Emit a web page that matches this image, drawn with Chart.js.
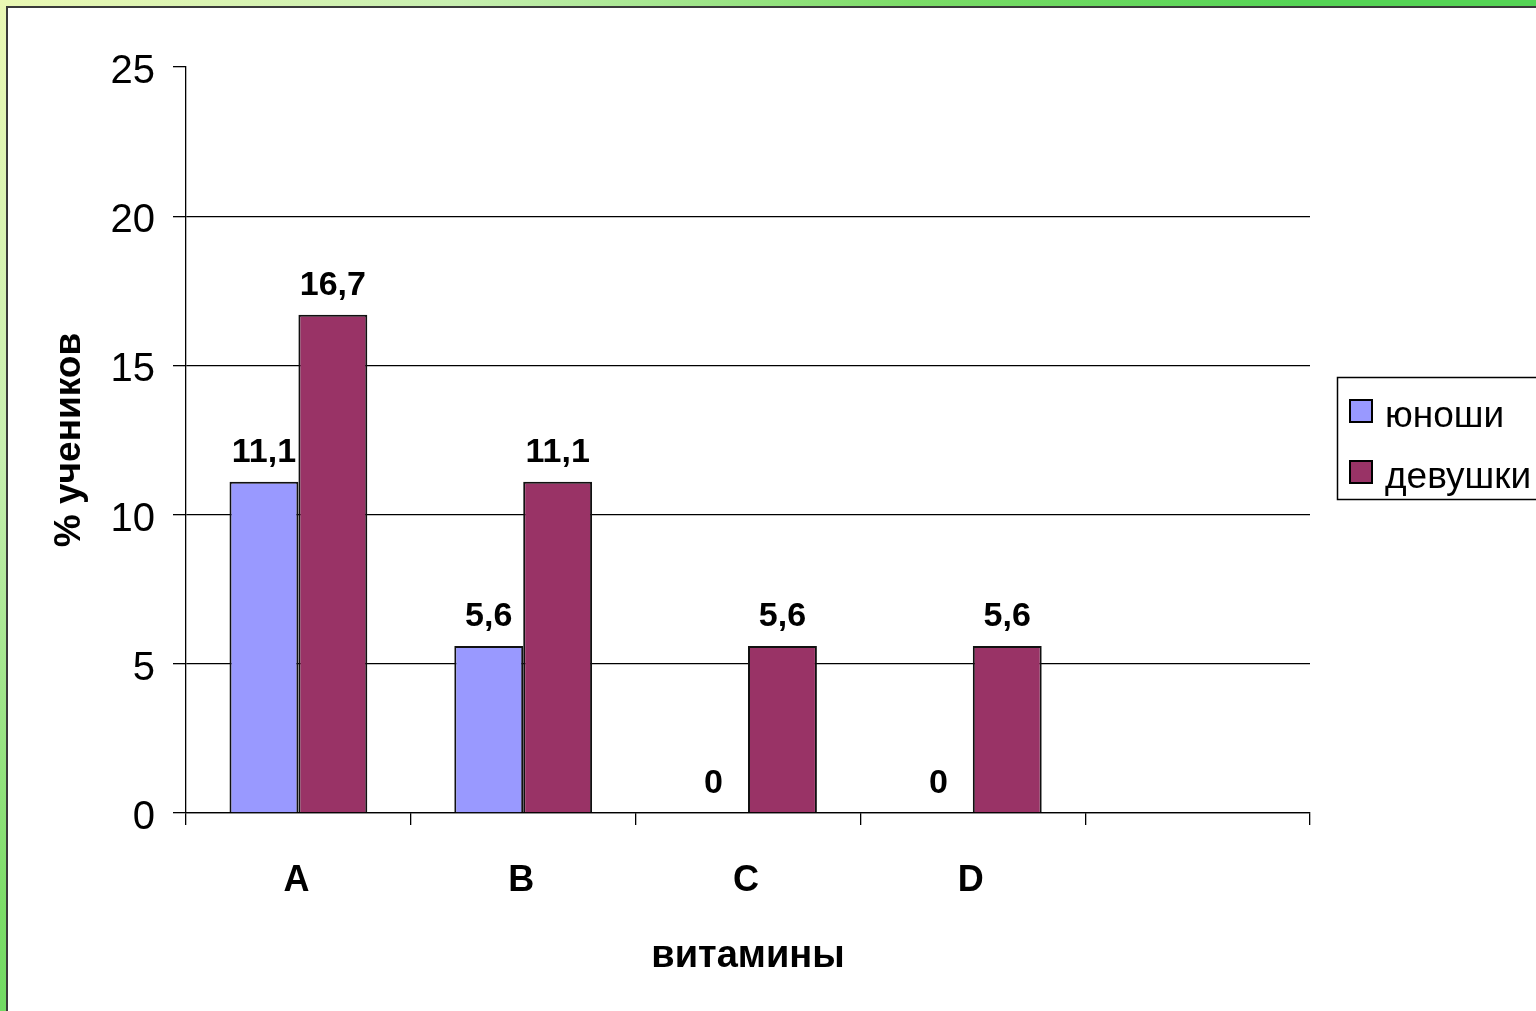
<!DOCTYPE html>
<html>
<head>
<meta charset="utf-8">
<script src="https://cdn.jsdelivr.net/npm/chart.js@4"></script>
<style>
  html, body { margin: 0; padding: 0; background: #fff; overflow: hidden; }
  canvas { display: block; }
</style>
</head>
<body>
<canvas id="myChart" width="1536" height="1011"></canvas>
<script>
// chart values
const categories = ['A', 'B', 'C', 'D', ''];
const seriesNames = ['юноши', 'девушки'];
const boys = [11.1, 5.6, 0, 0, null];
const girls = [16.7, 11.1, 5.6, 5.6, null];
const yMin = 0, yMax = 25, yStep = 5;

const FONT = '"Liberation Sans", Arial, sans-serif';
const colors = ['#9999ff', '#993366'];

// green slide frame behind the white chart sheet
const framePlugin = {
    id: 'frame',
    beforeDraw(chart) {
        const ctx = chart.ctx;
        const w = chart.width, h = chart.height;
        ctx.save();
        const g = ctx.createRadialGradient(0, 0, 0, 0, 0, 1300);
        g.addColorStop(0, '#eaf8b4');
        g.addColorStop(0.35, '#c8efb0');
        g.addColorStop(0.7, '#7cdc68');
        g.addColorStop(1, '#55d455');
        ctx.fillStyle = g;
        ctx.fillRect(0, 0, w, h);
        ctx.fillStyle = '#3a3a3a';
        ctx.fillRect(6, 6, w - 6, h - 6);
        ctx.fillStyle = '#ffffff';
        ctx.fillRect(8, 8, w - 8, h - 8);
        ctx.restore();
    }
};

// value labels above the bars
const valueLabels = {
    id: 'valueLabels',
    afterDatasetsDraw(chart) {
        const ctx = chart.ctx;
        ctx.save();
        ctx.font = 'bold 34px ' + FONT;
        ctx.fillStyle = '#000';
        ctx.textAlign = 'center';
        ctx.textBaseline = 'alphabetic';
        chart.data.datasets.forEach((ds, i) => {
            chart.getDatasetMeta(i).data.forEach((bar, j) => {
                const v = ds.data[j];
                if (v === null) return;
                ctx.fillText(String(v).replace('.', ','), bar.x, bar.y - 20);
            });
        });
        ctx.restore();
    }
};

// boxed legend on the right, like the original
const boxLegend = {
    id: 'boxLegend',
    afterDraw(chart) {
        const ctx = chart.ctx;
        ctx.save();
        ctx.strokeStyle = '#000';
        ctx.lineWidth = 1.5;
        ctx.strokeRect(1337.5, 377.5, 220, 122);
        ctx.font = '37px ' + FONT;
        ctx.textBaseline = 'middle';
        ctx.textAlign = 'left';
        chart.data.datasets.forEach((ds, i) => {
            const y = 411 + i * 61;
            ctx.lineWidth = 2;
            ctx.fillStyle = ds.backgroundColor;
            ctx.fillRect(1350, y - 11, 22, 22);
            ctx.strokeRect(1350, y - 11, 22, 22);
            ctx.fillStyle = '#000';
            ctx.fillText(ds.label, 1385, y + 6);
        });
        ctx.restore();
    }
};

const ctx = document.getElementById('myChart').getContext('2d');

const chartData = {
    labels: categories,
    datasets: [
        { label: seriesNames[0], data: boys, backgroundColor: colors[0] },
        { label: seriesNames[1], data: girls, backgroundColor: colors[1] }
    ].map(d => Object.assign(d, {
        borderColor: '#111',
        borderWidth: 2,
        barPercentage: 1,
        categoryPercentage: 0.613
    }))
};

const config = {
    type: 'bar',
    data: chartData,
    options: {
        responsive: false,
        animation: false,
        layout: { padding: { left: 8, top: 67, right: 226, bottom: 8 } },
        plugins: {
            legend: { display: false },
            tooltip: { enabled: false }
        },
        scales: {
            x: {
                offset: true,
                afterFit: s => { s.height = 1011 - 813 - 8; },
                grid: {
                    offset: true,
                    drawOnChartArea: false,
                    tickLength: 12,
                    tickColor: '#000',
                    lineWidth: 1.3
                },
                border: { display: true, color: '#000', width: 1.3 },
                ticks: {
                    color: '#000',
                    padding: 34,
                    labelOffset: -2,
                    font: { family: FONT, size: 36, weight: 'bold' }
                },
                title: {
                    display: true,
                    text: 'витамины',
                    color: '#000',
                    font: { family: FONT, size: 38, weight: 'bold' },
                    padding: { top: 0, bottom: 24 }
                }
            },
            y: {
                min: yMin,
                max: yMax,
                afterFit: s => { s.width = 186 - 8; },
                grid: {
                    color: c => (c.tick && c.tick.value === yMax) ? 'rgba(0,0,0,0)' : '#000',
                    tickColor: '#000',
                    tickLength: 13,
                    lineWidth: 1.3
                },
                border: { display: true, color: '#000', width: 1.3 },
                ticks: {
                    stepSize: yStep,
                    color: '#000',
                    padding: 18,
                    labelOffset: 5,
                    font: { family: FONT, size: 40 }
                },
                title: {
                    display: true,
                    text: '% учеников',
                    color: '#000',
                    font: { family: FONT, size: 37, weight: 'bold' },
                    padding: { top: 40, bottom: 0 }
                }
            }
        }
    },
    plugins: [framePlugin, valueLabels, boxLegend]
};

const myChart = new Chart(ctx, config);
</script>
</body>
</html>
